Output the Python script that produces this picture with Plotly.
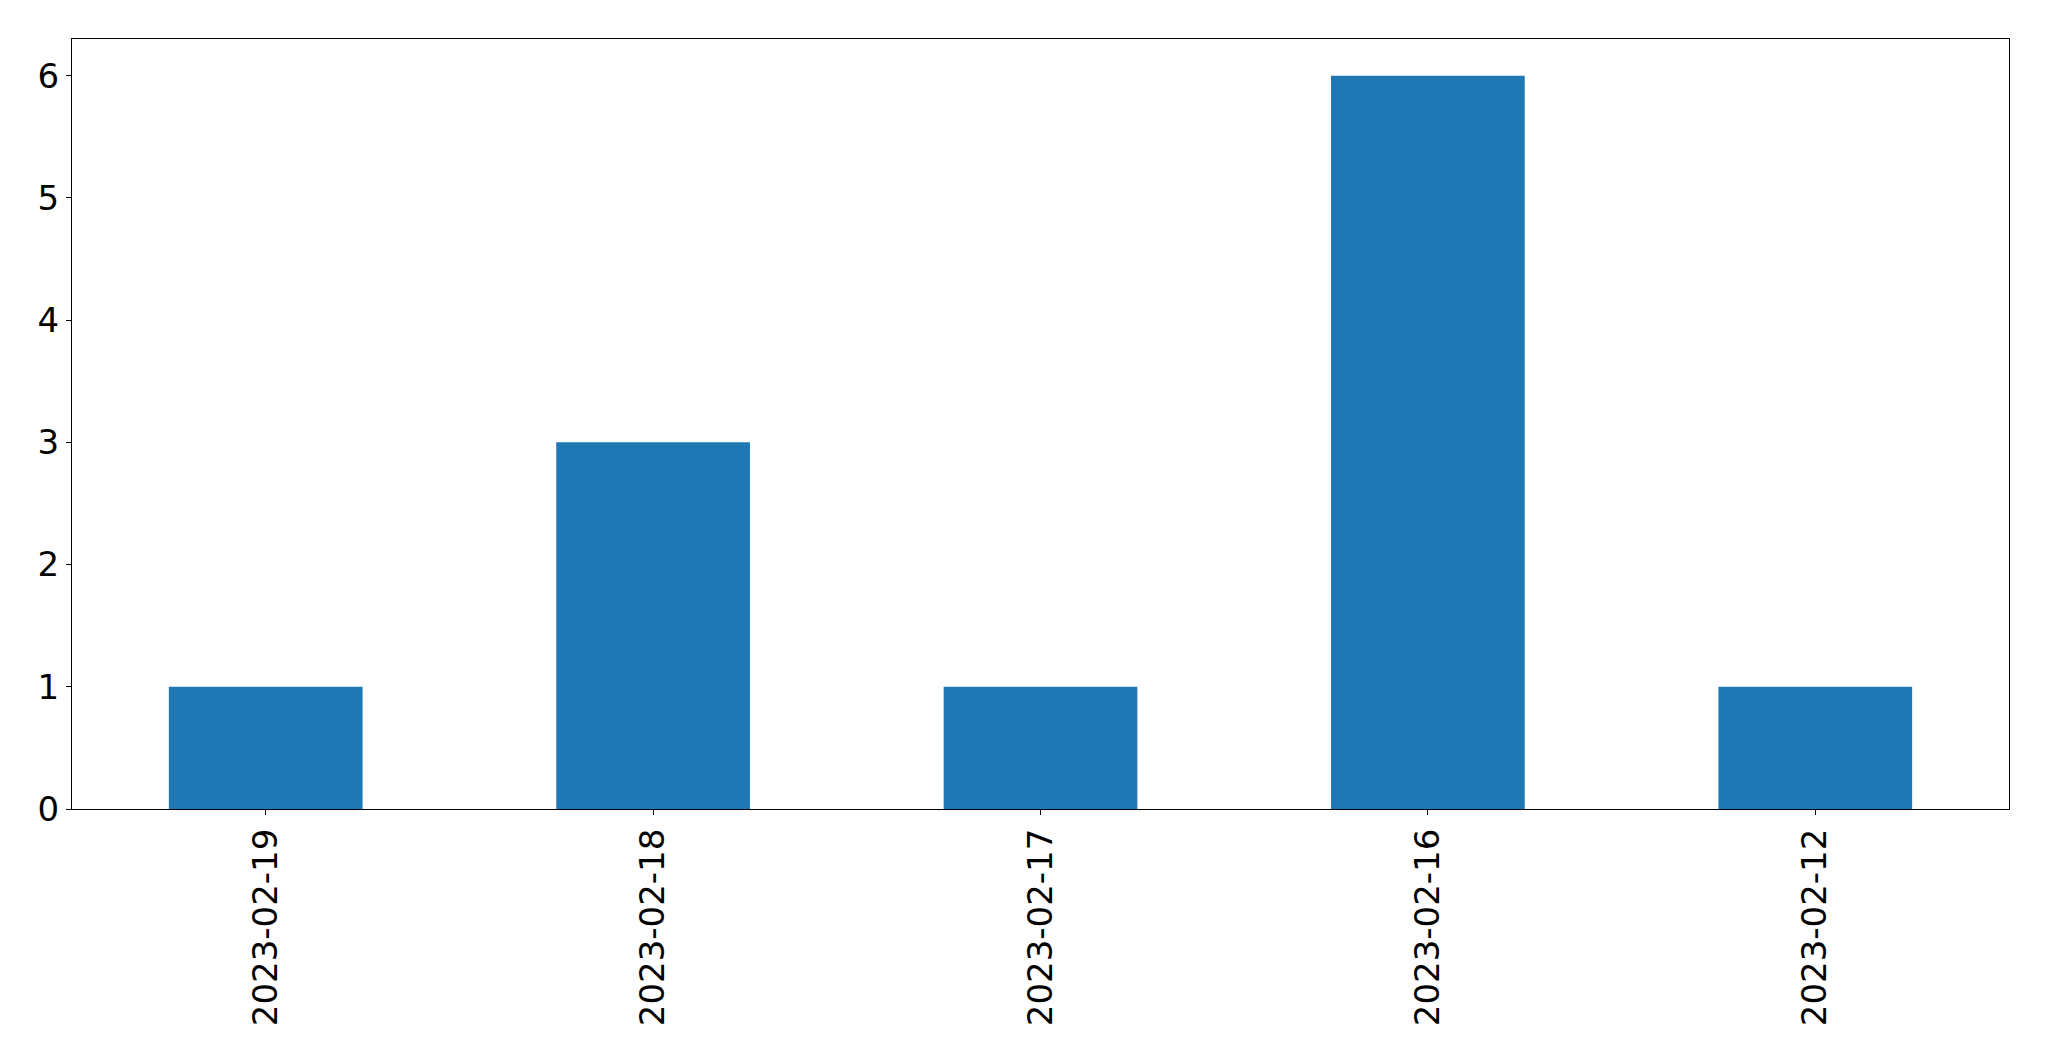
import plotly.graph_objects as go

categories = ["2023-02-19", "2023-02-18", "2023-02-17", "2023-02-16", "2023-02-12"]
counts = [1, 3, 1, 6, 1]
y_ticks = [0, 1, 2, 3, 4, 5, 6]

fig = go.Figure(go.Bar(x=categories, y=counts, marker_color="#1f77b4", width=0.5, marker_line_width=0))

font = dict(family="DejaVu Sans", size=34, color="black")
fig.update_layout(
    width=2041, height=1053,
    margin=dict(l=64, r=40, t=31, b=252),
    plot_bgcolor="white", paper_bgcolor="white",
    showlegend=False,
    font=font,
)
fig.update_xaxes(
    type="category", range=[-0.5, 4.5], tickangle=-90,
    showline=True, linecolor="black", linewidth=1.1, mirror=True,
    ticks="outside", ticklen=5, tickwidth=1.1, tickcolor="black",
    showgrid=False, zeroline=False, tickfont=font, ticklabelstandoff=0,
)
fig.update_yaxes(
    range=[0, 6.3], tickvals=y_ticks,
    showline=True, linecolor="black", linewidth=1.1, mirror=True,
    ticks="outside", ticklen=5, tickwidth=1.1, tickcolor="black",
    showgrid=False, zeroline=False, tickfont=font, ticklabelstandoff=0,
)
fig.write_html("out.html")
